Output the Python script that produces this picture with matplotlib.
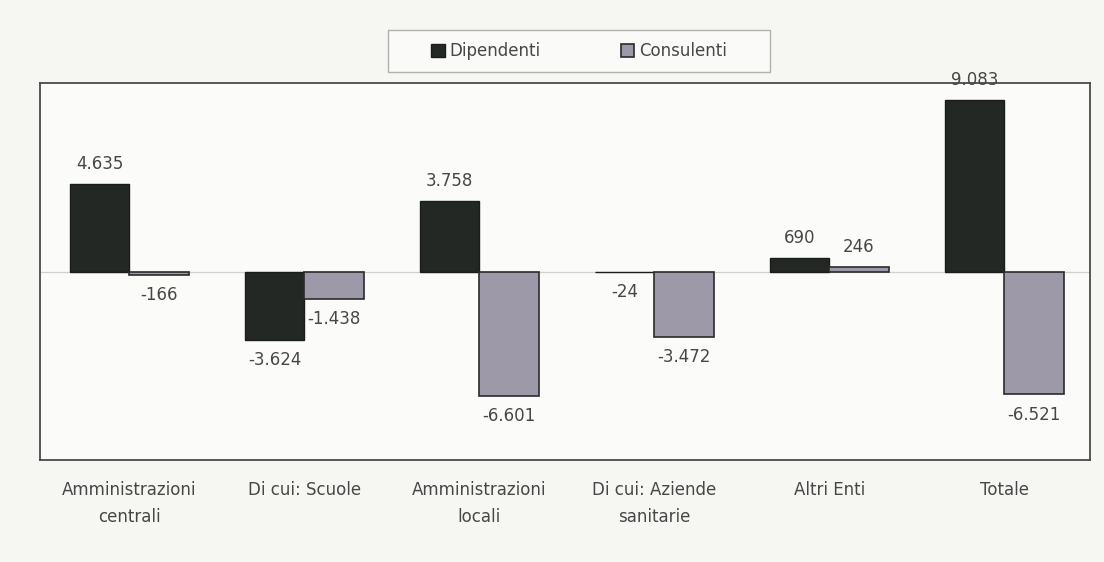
import matplotlib as mpl

mpl.use('Agg')
import matplotlib.pyplot as plt
import numpy as np
from matplotlib.patches import Rectangle

plt.rcParams['font.family'] = ['DejaVu Sans']

categories = ["Amministrazioni\ncentrali", "Di cui: Scuole", "Amministrazioni\nlocali",
              "Di cui: Aziende\nsanitarie", "Altri Enti", "Totale"]
dipendenti = [4635, -3624, 3758, -24, 690, 9083]
consulenti = [-166, -1438, -6601, -3472, 246, -6521]

BG = "#f6f7f3"
DARK = "#232824"
GRAY = "#9e99a8"
TXT = "#474747"


def fmt(v):
    return f"{v:,}".replace(",", ".")


fig = plt.figure(figsize=(11.04, 5.62), dpi=100, facecolor=BG)
ax = fig.add_axes([40 / 1104, 1 - 460 / 562, 1050 / 1104, 377 / 562])
ax.set_facecolor("#fbfcf9")

x = np.arange(len(categories))
w = 0.34
b1 = ax.bar(x - w / 2, dipendenti, w, color=DARK, edgecolor="#1a1d1a", lw=1.0,
            label="Dipendenti", zorder=3)
b2 = ax.bar(x + w / 2, consulenti, w, color=GRAY, edgecolor="#2a2a2a", lw=1.2,
            label="Consulenti", zorder=3)
ax.axhline(0, color="#d0d0cc", lw=0.9, zorder=1)

for bars, vals in ((b1, dipendenti), (b2, consulenti)):
    for r, v in zip(bars, vals):
        cx = r.get_x() + r.get_width() / 2
        off = 8 if v >= 0 else -8
        ax.annotate(fmt(v), (cx, v), xytext=(0, off), textcoords="offset points",
                    ha="center", va="bottom" if v >= 0 else "top",
                    fontsize=12, color=TXT, clip_on=False, zorder=4)

ax.set_xlim(-0.51, 5.49)
ax.set_ylim(-10000, 10000)
ax.set_yticks([])
ax.set_xticks(x)
ax.set_xticklabels(categories, fontsize=12, color=TXT, linespacing=1.65)
ax.tick_params(axis="x", length=0, pad=15)
for s in ax.spines.values():
    s.set_color("#4a4a4a")
    s.set_linewidth(1.3)

# legend box above the plot
fig.patches.append(Rectangle((388 / 1104, 1 - 72 / 562), 382 / 1104, 42 / 562,
                             transform=fig.transFigure, facecolor="#fafbf8",
                             edgecolor="#b0b0ac", lw=1.0))
fig.legend(handles=[b1, b2], loc="center", bbox_to_anchor=(579 / 1104, 1 - 51 / 562),
           ncol=2, frameon=False, fontsize=12, handlelength=0.8, handleheight=0.8,
           handletextpad=0.3, columnspacing=4.8, labelcolor=TXT)

fig.savefig("out.png", dpi=100, facecolor=BG)
